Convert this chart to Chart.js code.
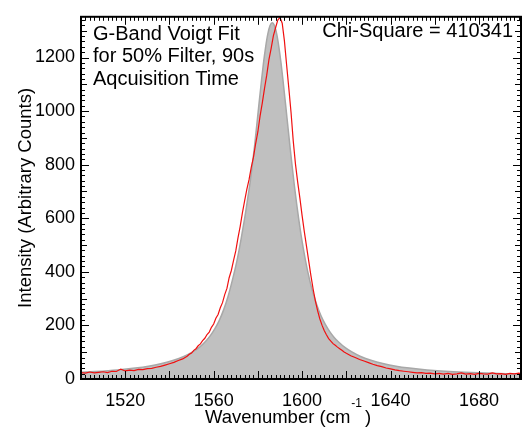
<!DOCTYPE html>
<html>
<head>
<meta charset="utf-8">
<script src="https://cdn.jsdelivr.net/npm/chart.js@4/dist/chart.umd.min.js"></script>
<style>
  body { margin: 0; background: #fff; }
  #wrap { width: 523px; height: 427px; }
</style>
</head>
<body>
<div id="wrap"><canvas id="chart" width="523" height="427"></canvas></div>
<script>
// Voigt fit (gray area)
const fitX = [1500, 1506.5, 1516.5, 1524.5, 1530.5, 1536.5, 1541.5, 1546.5, 1550.5, 1553.5, 1556.5, 1558.5, 1560.5, 1562.5, 1564.5, 1566.5,
  1568.5, 1570.5, 1571.5, 1572.5, 1573.5, 1574.5, 1575.5, 1576.5, 1577.5, 1578.5, 1579.5, 1580.5, 1581.5, 1582.5, 1583.5, 1584.5,
  1585.5, 1586.5, 1587.5, 1588.5, 1589.5, 1590.5, 1591.5, 1592.5, 1593.5, 1594.5, 1595.5, 1596.5, 1597.5, 1598.5, 1599.5, 1600.5,
  1601.5, 1602.5, 1604.5, 1606.5, 1608.5, 1610.5, 1612.5, 1614.5, 1616.5, 1619.5, 1622.5, 1626.5, 1631.5, 1636.5, 1642.5, 1648.5,
  1656.5, 1666.5, 1676.5, 1686.5, 1699];
const fitY = [25, 28, 34, 41, 48, 58, 69, 84, 101, 118, 142, 162, 187, 218, 258, 308,
  370, 440, 482, 527, 575, 625, 680, 735, 800, 869, 948, 1027, 1104, 1177, 1239, 1288,
  1319, 1330, 1319, 1288, 1239, 1177, 1104, 1027, 948, 869, 794, 722, 656, 595, 539, 489,
  444, 403, 334, 280, 237, 204, 177, 155, 138, 117, 101, 84, 69, 58, 48, 41,
  34, 28, 24, 21, 18];

// measured spectrum (red line)
const dataX = [1500, 1502, 1504, 1506, 1508, 1510, 1512, 1514, 1516, 1518, 1520, 1522, 1524, 1526, 1528, 1530, 1532, 1534, 1536, 1538,
  1540, 1542, 1544, 1546, 1548, 1549, 1550, 1551, 1552, 1553, 1554, 1555, 1556, 1557, 1558, 1559, 1560, 1561, 1562, 1563,
  1564, 1565, 1566, 1567, 1568, 1569, 1570, 1571, 1572, 1573, 1574, 1575, 1576, 1577, 1578, 1579, 1580, 1581, 1582, 1583,
  1584, 1585, 1586, 1587, 1588, 1589, 1590, 1591, 1592, 1593, 1594, 1595, 1596, 1597, 1598, 1599, 1600, 1601, 1602, 1603,
  1604, 1605, 1606, 1607, 1608, 1609, 1610, 1611, 1612, 1613, 1614, 1615, 1616, 1617, 1618, 1619, 1620, 1622, 1624, 1626,
  1628, 1630, 1632, 1634, 1636, 1638, 1640, 1642, 1644, 1646, 1648, 1650, 1652, 1654, 1656, 1658, 1660, 1662, 1664, 1666,
  1668, 1670, 1672, 1674, 1676, 1678, 1680, 1682, 1684, 1686, 1688, 1690, 1692, 1694, 1696, 1698, 1699];
const dataY = [24, 22, 26, 23, 25, 27, 24, 29, 28, 37, 30, 33, 31, 36, 35, 39, 40, 44, 47, 52,
  57, 62, 69, 75, 85, 92, 97, 107, 113, 124, 131, 143, 152, 166, 175, 193, 205, 227, 241, 266,
  285, 315, 338, 378, 405, 443, 478, 527, 570, 620, 665, 708, 744, 790, 828, 879, 923, 982, 1031, 1085,
  1134, 1192, 1234, 1281, 1311, 1340, 1350, 1328, 1262, 1172, 1085, 995, 888, 802, 735, 675, 610, 550, 495, 440,
  385, 335, 292, 255, 225, 201, 181, 165, 151, 141, 132, 126, 119, 113, 107, 101, 96, 87, 80, 73,
  67, 61, 55, 50, 46, 41, 38, 34, 31, 29, 27, 25, 23, 24, 21, 22, 19, 21, 18, 21,
  17, 19, 23, 18, 20, 17, 21, 19, 18, 23, 19, 20, 17, 21, 19, 22, 20];

const xTickLabels = [1520, 1560, 1600, 1640, 1680];
const yTickLabels = [0, 200, 400, 600, 800, 1000, 1200];
const xRange = [1500, 1699];
const yRange = [0, 1352];

const FONT = '"Liberation Sans", Arial, sans-serif';

// frame with inward ticks on all four sides, plus titles and notes
const frameTicks = {
  id: 'frameTicks',
  afterDatasetsDraw(chart) {
    const { ctx, chartArea: a, scales: { x, y } } = chart;
    ctx.save();
    ctx.strokeStyle = '#000';
    ctx.lineWidth = 1;
    ctx.beginPath();
    for (let v = xRange[0]; v <= xRange[1]; v += 2) {
      const px = Math.round(x.getPixelForValue(v)) + 0.5;
      const len = v % 20 === 0 ? 8 : 4;
      ctx.moveTo(px, a.bottom); ctx.lineTo(px, a.bottom - len);
      ctx.moveTo(px, a.top); ctx.lineTo(px, a.top + len);
    }
    for (let v = yRange[0]; v <= yRange[1]; v += 20) {
      const py = Math.round(y.getPixelForValue(v)) + 0.5;
      const len = v % 200 === 0 ? 8 : (v % 100 === 0 ? 6 : 4);
      ctx.moveTo(a.left, py); ctx.lineTo(a.left + len, py);
      ctx.moveTo(a.right, py); ctx.lineTo(a.right - len, py);
    }
    ctx.stroke();
    ctx.lineWidth = 2;
    ctx.strokeRect(a.left, a.top, a.right - a.left, a.bottom - a.top);
    ctx.restore();
  },
  afterDraw(chart) {
    const { ctx, chartArea: a } = chart;
    ctx.save();
    ctx.fillStyle = '#000';
    // x title with superscript
    ctx.textBaseline = 'alphabetic';
    ctx.textAlign = 'left';
    ctx.font = '18.5px ' + FONT;
    const main = 'Wavenumber (cm';
    let tx = 205;
    ctx.fillText(main, tx, 422.5);
    tx += ctx.measureText(main).width + 1;
    ctx.font = '12px ' + FONT;
    ctx.fillText('-1', tx, 407);
    tx += ctx.measureText('-1').width + 3;
    ctx.font = '18.5px ' + FONT;
    ctx.fillText(')', tx, 422.5);
    // y title
    ctx.save();
    ctx.translate(26, (a.top + a.bottom) / 2);
    ctx.rotate(-Math.PI / 2);
    ctx.textAlign = 'center';
    ctx.textBaseline = 'middle';
    ctx.fillText('Intensity (Arbitrary Counts)', 0, 0);
    ctx.restore();
    // notes
    ctx.font = '20px ' + FONT;
    ctx.textAlign = 'left';
    ctx.fillText('G-Band Voigt Fit', 93, 39.5);
    ctx.fillText('for 50% Filter, 90s', 93, 62);
    ctx.fillText('Aqcuisition Time', 93, 84.5);
    ctx.textAlign = 'right';
    ctx.fillText('Chi-Square = 410341', 513, 37);
    ctx.restore();
  }
};

const ctx = document.getElementById('chart');
new Chart(ctx, {
  type: 'line',
  data: {
    datasets: [
      {
        label: 'Data',
        data: dataX.map((v, i) => ({ x: v, y: dataY[i] })),
        borderColor: '#f01010',
        borderWidth: 1.2,
        pointRadius: 0,
        tension: 0,
        fill: false,
      },
      {
        label: 'Voigt Fit',
        data: fitX.map((v, i) => ({ x: v, y: fitY[i] })),
        borderColor: '#a8a8a8',
        borderWidth: 1.5,
        backgroundColor: 'rgb(192,192,192)',
        pointRadius: 0,
        cubicInterpolationMode: 'monotone',
        fill: 'origin',
      },
    ],
  },
  options: {
    responsive: false,
    animation: false,
    layout: { padding: { left: 0, top: 14, right: 2, bottom: 0 } },
    plugins: { legend: { display: false }, tooltip: { enabled: false } },
    scales: {
      x: {
        type: 'linear',
        min: xRange[0],
        max: xRange[1],
        grid: { display: false, drawTicks: false },
        border: { display: false },
        afterBuildTicks: (s) => { s.ticks = xTickLabels.map((v) => ({ value: v })); },
        afterFit: (s) => { s.height = 48; },
        ticks: { color: '#000', font: { family: FONT, size: 18 }, padding: 11, maxRotation: 0, callback: (v) => String(v) },
      },
      y: {
        min: yRange[0],
        max: yRange[1],
        grid: { display: false, drawTicks: false },
        border: { display: false },
        afterBuildTicks: (s) => { s.ticks = yTickLabels.map((v) => ({ value: v })); },
        afterFit: (s) => { s.width = 81; },
        ticks: { color: '#000', font: { family: FONT, size: 18 }, padding: 6, callback: (v) => String(v) },
      },
    },
  },
  plugins: [frameTicks],
});
</script>
</body>
</html>
